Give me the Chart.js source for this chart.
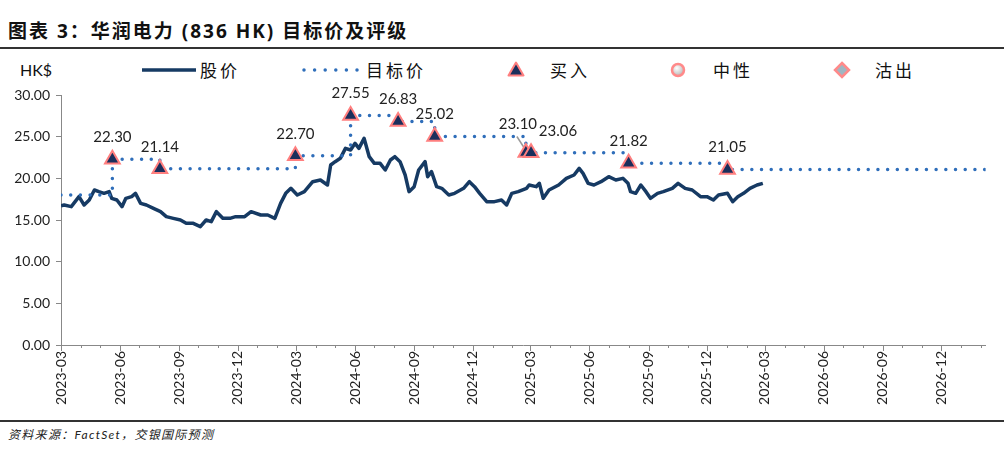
<!DOCTYPE html>
<html>
<head>
<meta charset="utf-8">
<script src="https://cdn.jsdelivr.net/npm/chart.js@4.4.1/dist/chart.umd.min.js"></script>
<style>
  body { margin: 0; width: 1004px; height: 456px; background: #fff; position: relative; overflow: hidden;
         font-family: Lato, 'Noto Sans CJK SC', sans-serif; color: #222; }
  .abs { position: absolute; white-space: nowrap; }
  #title { left: 8px; top: 16px; font: bold 19px 'Open Sans', 'Noto Sans CJK SC', sans-serif; letter-spacing: 2px; color: #111; }
  .rule { position: absolute; left: 0; width: 1004px; height: 2px; background: #333; }
  .lg { top: 58px; font: 17px 'Noto Sans CJK SC', sans-serif; letter-spacing: 3px; line-height: 24px; color: #111; }
  #unit { left: 20px; top: 58px; font: 16px Lato, sans-serif; line-height: 24px; color: #111; }
  #foot { left: 8px; top: 425px; font: italic 12px Lato, 'Noto Sans CJK SC', sans-serif; letter-spacing: 1.3px; color: #222; }
  #wrap { position: absolute; left: 0; top: 0; width: 1004px; height: 415px; }
</style>
</head>
<body>
<div id="title" class="abs">图表 3：华润电力 (836 HK) 目标价及评级</div>
<div class="rule" style="top:47px"></div>

<div id="unit" class="abs">HK$</div>
<svg class="abs" style="left:140px;top:66px" width="58" height="8"><line x1="2" y1="4" x2="56" y2="4" stroke="#163A63" stroke-width="3.5"/></svg>
<div class="abs lg" style="left:200px">股价</div>
<svg class="abs" style="left:300px;top:66px" width="62" height="8"><line x1="4" y1="4" x2="58" y2="4" stroke="#2F6EBA" stroke-width="3.5" stroke-linecap="round" stroke-dasharray="0 10.6"/></svg>
<div class="abs lg" style="left:366px">目标价</div>
<svg class="abs" style="left:506px;top:60px" width="20" height="20"><polygon points="10,2.5 17.5,15.5 2.5,15.5" fill="#1B2F5C" stroke="#FF7F7F" stroke-width="2" stroke-linejoin="round"/></svg>
<div class="abs lg" style="left:550px">买入</div>
<svg class="abs" style="left:668px;top:60px" width="20" height="20">
  <defs><radialGradient id="g" cx="40%" cy="35%" r="65%"><stop offset="0" stop-color="#fff"/><stop offset="1" stop-color="#b8b8b8"/></radialGradient></defs>
  <circle cx="10" cy="10" r="6" fill="url(#g)" stroke="#FF8A8A" stroke-width="2.5"/></svg>
<div class="abs lg" style="left:713px">中性</div>
<svg class="abs" style="left:832px;top:60px" width="20" height="20"><polygon points="10,3 17,10 10,17 3,10" fill="#9FB6C2" stroke="#FF8A8A" stroke-width="2.5"/></svg>
<div class="abs lg" style="left:875px">沽出</div>

<div id="wrap"><canvas id="c"></canvas></div>

<div class="rule" style="top:420px"></div>
<div id="foot" class="abs">资料来源：FactSet，交银国际预测</div>

<script>
// 股价 (HK$)
const priceDates = [
  '2023-03-01','2023-03-06','2023-03-17','2023-03-29','2023-04-06','2023-04-14','2023-04-22','2023-04-29',
  '2023-05-07','2023-05-15','2023-05-19','2023-05-27','2023-06-04','2023-06-10','2023-06-19','2023-06-25',
  '2023-07-03','2023-07-12','2023-07-23','2023-08-03','2023-08-12','2023-08-23','2023-09-03','2023-09-12',
  '2023-09-23','2023-10-04','2023-10-13','2023-10-21','2023-10-29','2023-11-08','2023-11-19','2023-11-28',
  '2023-12-12','2023-12-22','2024-01-06','2024-01-17','2024-01-28','2024-02-06','2024-02-14','2024-02-22',
  '2024-03-03','2024-03-14','2024-03-27','2024-04-08','2024-04-19','2024-04-24','2024-05-01','2024-05-09',
  '2024-05-17','2024-05-25','2024-06-01','2024-06-07','2024-06-15','2024-06-23','2024-07-01','2024-07-10',
  '2024-07-18','2024-07-26','2024-08-02','2024-08-10','2024-08-18','2024-08-24','2024-09-01','2024-09-08',
  '2024-09-18','2024-09-22','2024-09-28','2024-10-06','2024-10-14','2024-10-25','2024-11-03','2024-11-17',
  '2024-11-26','2024-12-04','2024-12-12','2024-12-23','2025-01-04','2025-01-15','2025-01-23','2025-01-31',
  '2025-02-10','2025-02-23','2025-02-27','2025-03-10','2025-03-15','2025-03-21','2025-03-30','2025-04-14',
  '2025-04-26','2025-05-08','2025-05-16','2025-05-22','2025-05-30','2025-06-08','2025-06-19','2025-07-01',
  '2025-07-12','2025-07-23','2025-07-31','2025-08-04','2025-08-12','2025-08-20','2025-08-28','2025-09-04',
  '2025-09-15','2025-09-24','2025-10-08','2025-10-17','2025-10-28','2025-11-08','2025-11-21','2025-12-01',
  '2025-12-11','2025-12-19','2026-01-02','2026-01-10','2026-01-18','2026-01-27','2026-02-06','2026-02-17',
  '2026-02-26'
];
const priceValues = [
  16.7, 16.8, 16.6, 17.8, 16.8, 17.4, 18.6, 18.4,
  18.2, 18.4, 17.6, 17.4, 16.6, 17.6, 17.8, 18.2,
  17.0, 16.8, 16.4, 16.0, 15.4, 15.2, 15.0, 14.6,
  14.6, 14.2, 15.0, 14.8, 16.0, 15.2, 15.2, 15.4,
  15.4, 16.0, 15.6, 15.6, 15.2, 17.0, 18.2, 18.8,
  18.0, 18.4, 19.6, 19.8, 19.2, 21.6, 22.0, 22.4,
  23.6, 23.4, 24.2, 23.6, 24.8, 22.6, 21.8, 21.8,
  21.0, 22.2, 22.6, 22.0, 20.4, 18.4, 19.0, 21.0,
  22.0, 20.2, 20.8, 19.0, 18.8, 18.0, 18.2, 18.8,
  19.6, 19.0, 18.2, 17.2, 17.2, 17.4, 16.8, 18.2,
  18.4, 18.8, 19.2, 19.0, 19.4, 17.6, 18.6, 19.2,
  20.0, 20.4, 21.2, 20.6, 19.4, 19.2, 19.6, 20.2,
  19.8, 20.0, 19.4, 18.4, 18.2, 19.2, 18.4, 17.6,
  18.2, 18.4, 18.8, 19.4, 18.8, 18.6, 17.8, 17.8,
  17.4, 18.0, 18.2, 17.2, 17.8, 18.2, 18.8, 19.2,
  19.4
];

// 评级（买入）及目标价
const ratingDates = ['2023-05-20','2023-08-02','2024-02-29','2024-05-25','2024-08-07',
                     '2024-10-03','2025-02-22','2025-03-02','2025-08-01','2026-01-02'];
const ratingTargets = [22.30, 21.14, 22.70, 27.55, 26.83, 25.02, 23.10, 23.06, 21.82, 21.05];
const priorTarget = 18.00;

// 坐标轴
const axisStart = '2023-03-01';
const axisEnd = '2027-02-08';
const yTicks = [0, 5, 10, 15, 20, 25, 30];

const day = s => (Date.UTC(+s.slice(0, 4), +s.slice(5, 7) - 1, +s.slice(8, 10)) - Date.UTC(2023, 2, 1)) / 864e5;

const priceData = priceDates.map((d, i) => ({ x: day(d), y: priceValues[i] }));
const ratingData = ratingDates.map((d, i) => ({ x: day(d), y: ratingTargets[i] }));
const targetData = [{ x: day(axisStart), y: priorTarget }, ...ratingData,
                    { x: day(axisEnd), y: ratingTargets[ratingTargets.length - 1] }];

// month starts for x ticks
const monthTicks = [];
for (let y = 2023, m = 2; ; m++) {
  if (m > 11) { m = 0; y++; }
  const v = (Date.UTC(y, m, 1) - Date.UTC(2023, 2, 1)) / 864e5;
  if (v > day(axisEnd)) break;
  monthTicks.push(v);
}
const tickLabel = v => {
  const d = new Date(Date.UTC(2023, 2, 1) + v * 864e5);
  const mo = d.getUTCMonth() + 1;
  return mo % 3 === 0 ? d.getUTCFullYear() + '-' + String(mo).padStart(2, '0') : '';
};

// 数字标签
const labelShift = { 6: [-8, -28], 7: [27, -22] };
const ratingLabels = {
  id: 'ratingLabels',
  beforeDatasetsDraw(chart) {
    const p = chart.getDatasetMeta(0).data[6];
    const ctx = chart.ctx;
    ctx.save();
    ctx.strokeStyle = '#999';
    ctx.lineWidth = 1.5;
    ctx.beginPath();
    ctx.moveTo(p.x - 9, p.y - 16);
    ctx.lineTo(p.x, p.y - 2);
    ctx.stroke();
    ctx.restore();
  },
  afterDatasetsDraw(chart) {
    const ctx = chart.ctx;
    ctx.save();
    ctx.font = '15px Lato';
    ctx.fillStyle = '#222';
    ctx.textAlign = 'center';
    ctx.textBaseline = 'middle';
    chart.getDatasetMeta(0).data.forEach((pt, i) => {
      const [dx, dy] = labelShift[i] || [0, -22];
      ctx.fillText(ratingTargets[i].toFixed(2), pt.x + dx, pt.y + dy);
    });
    ctx.restore();
  },
  afterDraw(chart) {
    // x-axis tick marks: long at labelled quarters, short at other months
    const xs = chart.scales.x, ctx = chart.ctx, b = chart.chartArea.bottom;
    ctx.save();
    ctx.strokeStyle = '#888';
    ctx.lineWidth = 1;
    xs.ticks.forEach(t => {
      const px = Math.round(xs.getPixelForValue(t.value)) + 0.5;
      ctx.beginPath();
      ctx.moveTo(px, b);
      ctx.lineTo(px, b + (t.label ? 6 : 3));
      ctx.stroke();
    });
    ctx.restore();
  }
};

new Chart(document.getElementById('c'), {
  type: 'line',
  data: {
    datasets: [{
      label: '买入',
      type: 'scatter',
      data: ratingData,
      pointStyle: 'triangle',
      pointRadius: 8.5,
      pointBackgroundColor: '#1B2F5C',
      pointBorderColor: '#FF7F7F',
      pointBorderWidth: 2,
      showLine: false
    }, {
      label: '目标价',
      data: targetData,
      stepped: true,
      borderColor: '#2F6EBA',
      borderWidth: 3.5,
      borderDash: [0, 9.7],
      borderCapStyle: 'round',
      pointRadius: 0,
      fill: false
    }, {
      label: '股价',
      data: priceData,
      borderColor: '#163A63',
      borderWidth: 3.5,
      borderJoinStyle: 'round',
      pointRadius: 0,
      tension: 0,
      fill: false
    }]
  },
  options: {
    responsive: true,
    maintainAspectRatio: false,
    animation: false,
    layout: { padding: { top: 95, right: 8, left: 0, bottom: 0 } },
    plugins: { legend: { display: false }, tooltip: { enabled: false } },
    scales: {
      x: {
        type: 'linear',
        min: day(axisStart),
        max: day(axisEnd),
        afterBuildTicks: s => { s.ticks = monthTicks.map(v => ({ value: v })); },
        afterFit: s => { s.height = 70; },
        grid: { display: true, drawOnChartArea: false, drawTicks: false },
        border: { color: '#888', width: 1 },
        ticks: {
          autoSkip: false, maxRotation: 90, minRotation: 90, padding: 6,
          color: '#222', font: { family: 'Lato', size: 14 },
          callback: v => tickLabel(v)
        }
      },
      y: {
        min: 0,
        max: 30,
        afterBuildTicks: s => { s.ticks = yTicks.map(v => ({ value: v })); },
        afterFit: s => { s.width = 61; },
        grid: { display: true, drawOnChartArea: false, drawTicks: true, tickLength: 5, color: '#888' },
        border: { color: '#888', width: 1 },
        ticks: {
          padding: 6, color: '#222', font: { family: 'Lato', size: 14 },
          callback: v => v.toFixed(2)
        }
      }
    }
  },
  plugins: [ratingLabels]
});
</script>
</body>
</html>
